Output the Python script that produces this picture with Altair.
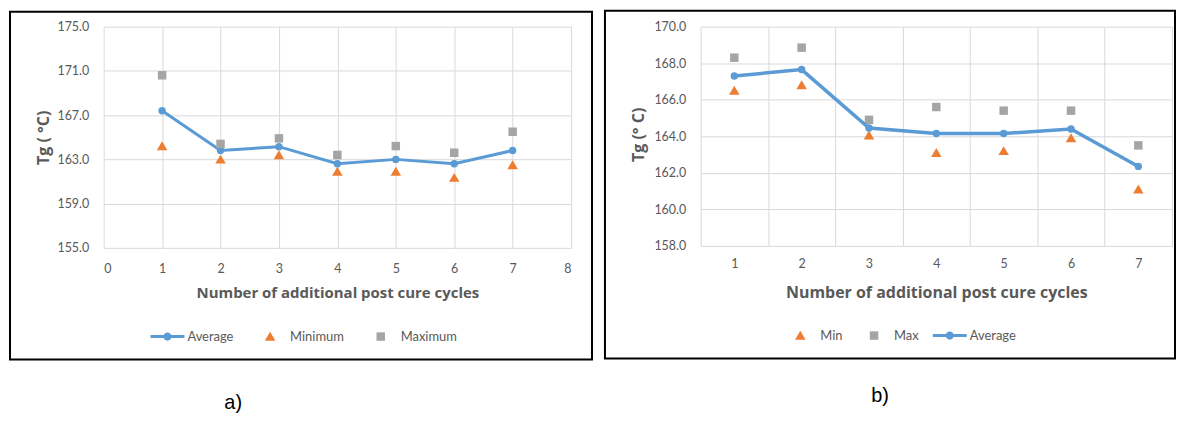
import altair as alt
import pandas as pd

# ---------------- data ----------------
cycles = [1, 2, 3, 4, 5, 6, 7]

a_average = [167.4, 163.8, 164.15, 162.6, 163.0, 162.6, 163.8]
a_minimum = [164.2, 163.0, 163.4, 161.9, 161.9, 161.35, 162.5]
a_maximum = [170.6, 164.4, 164.9, 163.4, 164.2, 163.6, 165.5]

b_average = [167.3, 167.65, 164.45, 164.15, 164.15, 164.4, 162.35]
b_min = [166.5, 166.8, 164.05, 163.1, 163.2, 163.9, 161.1]
b_max = [168.3, 168.85, 164.9, 165.6, 165.4, 165.4, 163.5]

a_series = ["Average", "Minimum", "Maximum"]
b_series = ["Min", "Max", "Average"]

a_x_ticks = [0, 1, 2, 3, 4, 5, 6, 7, 8]
a_y_ticks = [155, 159, 163, 167, 171, 175]
b_y_ticks = [158, 160, 162, 164, 166, 168, 170]

x_title = "Number of additional post cure cycles"
a_y_title = "Tg ( °C)"
b_y_title = "Tg  (° C)"
panel_labels = ["a)", "b)"]

# ---------------- styles ----------------
BLUE = "#5B9BD5"
ORANGE = "#ED7D31"
GRAY = "#A5A5A5"
TEXT = "#595959"
FONT = "Lato"
TFONT = "Open Sans"
SYM = 1156  # symbol slot of 34 px
AVG_PATH = ("M-1,-0.09L1,-0.09L1,0.09L-1,0.09Z "
            "M-0.24,0A0.24,0.24 0 1,1 0.24,0A0.24,0.24 0 1,1 -0.24,0Z")
TRI_PATH = "M0,-0.28L0.31,0.25L-0.31,0.25Z"
SQ_PATH = "M-0.25,-0.25L0.25,-0.25L0.25,0.25L-0.25,0.25Z"


def legend(x, y, pad):
    return alt.Legend(orient="none", legendX=x, legendY=y, direction="horizontal",
                      title=None, symbolSize=SYM, labelFont=FONT, labelFontSize=13,
                      labelColor=TEXT, labelOffset=3, columnPadding=pad, padding=0,
                      symbolStrokeWidth=0, symbolOpacity=1)


def border(x1, x2, y1, y2):
    return alt.Chart(alt.Data(values=[{"k": 0}])).mark_rect(
        fillOpacity=0, stroke="black", strokeWidth=2
    ).encode(x=alt.value(x1), x2=alt.value(x2), y=alt.value(y1), y2=alt.value(y2))


def label(text, x, y):
    return alt.Chart(alt.Data(values=[{"t": text}])).mark_text(
        font="Liberation Sans", fontSize=20, color="black"
    ).encode(x=alt.value(x), y=alt.value(y), text="t:N")


# ---------------- panel a ----------------
a_line_df = pd.DataFrame({"cycle": cycles, "value": a_average})
a_pts_df = pd.DataFrame({
    "cycle": cycles + cycles,
    "series": ["Minimum"] * len(cycles) + ["Maximum"] * len(cycles),
    "value": a_minimum + a_maximum,
})

AW, AH = 469, 222
ax = alt.X("cycle:Q", scale=alt.Scale(domain=[0, 8], nice=False, zero=False),
           axis=alt.Axis(values=a_x_ticks, format="d", title=x_title, labelPadding=15,
                         titleFontSize=15, titleX=AW / 2, titleY=45,
                         titleBaseline="middle", titleAlign="center"))
ay = alt.Y("value:Q", scale=alt.Scale(domain=[155, 175], nice=False, zero=False),
           axis=alt.Axis(values=a_y_ticks, format=".1f", title=a_y_title, labelPadding=15,
                         titleX=-60, titleY=AH / 2, titleAngle=270, titleAlign="center",
                         titleBaseline="middle", titleFontSize=16))

a_leg = legend(47, 294, 19)
a_line = alt.Chart(a_line_df).mark_line(color=BLUE, strokeWidth=3).encode(x=ax, y=ay)
a_dots = alt.Chart(a_line_df).mark_circle(color=BLUE, size=55, opacity=1).encode(x=ax, y=ay)
a_pts = alt.Chart(a_pts_df).mark_point(filled=True, size=SYM, opacity=1, strokeWidth=0).encode(
    x=ax, y=ay,
    color=alt.Color("series:N", scale=alt.Scale(domain=a_series, range=[BLUE, ORANGE, GRAY]), legend=a_leg),
    shape=alt.Shape("series:N", scale=alt.Scale(domain=a_series, range=[AVG_PATH, TRI_PATH, SQ_PATH]), legend=a_leg),
)
panel_a = alt.layer(
    border(-94, 490, -15, 334), a_line, a_dots, a_pts, label(panel_labels[0], 130, 378)
).properties(width=AW, height=AH)

# ---------------- panel b ----------------
b_line_df = pd.DataFrame({"cycle": cycles, "value": b_average})
b_pts_df = pd.DataFrame({
    "cycle": cycles + cycles,
    "series": ["Min"] * len(cycles) + ["Max"] * len(cycles),
    "value": b_min + b_max,
})

BW, BH = 473, 220
bx = alt.X("cycle:O", bandPosition=0.5,
           scale=alt.Scale(type="band", paddingInner=0, paddingOuter=0),
           axis=alt.Axis(tickBand="extent", grid=True, labelAngle=0, labelPadding=12,
                         title=x_title, titleFontSize=16, titleX=BW / 2, titleY=47,
                         titleBaseline="middle", titleAlign="center"))
by = alt.Y("value:Q", scale=alt.Scale(domain=[158, 170], nice=False, zero=False),
           axis=alt.Axis(values=b_y_ticks, format=".1f", title=b_y_title, labelPadding=15,
                         titleX=-62, titleY=BH / 2 - 2, titleAngle=270, titleAlign="center",
                         titleBaseline="middle", titleFontSize=16))

b_leg = legend(83, 293, 14)
b_pts = alt.Chart(b_pts_df).mark_point(filled=True, size=SYM, opacity=1, strokeWidth=0).encode(
    x=bx, y=by,
    color=alt.Color("series:N", scale=alt.Scale(domain=b_series, range=[ORANGE, GRAY, BLUE]), legend=b_leg),
    shape=alt.Shape("series:N", scale=alt.Scale(domain=b_series, range=[TRI_PATH, SQ_PATH, AVG_PATH]), legend=b_leg),
)
b_line = alt.Chart(b_line_df).mark_line(color=BLUE, strokeWidth=3.5).encode(x=bx, y=by)
b_dots = alt.Chart(b_line_df).mark_circle(color=BLUE, size=55, opacity=1).encode(x=bx, y=by)
panel_b = alt.layer(
    border(-96, 476, -16, 333), b_pts, b_line, b_dots, label(panel_labels[1], 180, 371)
).properties(width=BW, height=BH)

chart = alt.hconcat(panel_a, panel_b, spacing=9).resolve_scale(
    color="independent", shape="independent"
).properties(padding=0).configure_view(
    stroke="transparent"
).configure_axis(
    labelFont=FONT, labelColor=TEXT, labelFontSize=12.5, gridColor="#D9D9D9",
    domain=False, ticks=False, titleFont=TFONT, titleColor=TEXT, titleFontWeight="bold"
)

chart.save("out.html", embed_options={"renderer": "svg", "actions": False})
